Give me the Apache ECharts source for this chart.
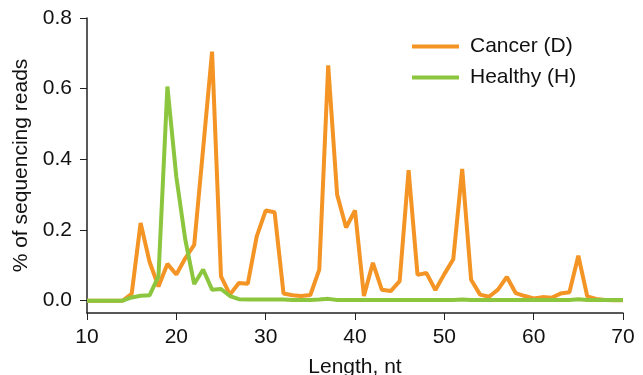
<!DOCTYPE html>
<html>
<head>
<meta charset="utf-8">
<script src="https://cdn.jsdelivr.net/npm/echarts@6/dist/echarts.min.js"></script>
<style>
  html, body { margin: 0; padding: 0; background: #fff; }
  #chart { width: 643px; height: 375px; }
</style>
</head>
<body>
<div id="chart"></div>
<script>
// read lengths 10..70 nt
const lengths = [10, 11, 12, 13, 14, 15, 16, 17, 18, 19, 20, 21, 22, 23, 24, 25, 26, 27, 28, 29, 30,
  31, 32, 33, 34, 35, 36, 37, 38, 39, 40, 41, 42, 43, 44, 45, 46, 47, 48, 49, 50,
  51, 52, 53, 54, 55, 56, 57, 58, 59, 60, 61, 62, 63, 64, 65, 66, 67, 68, 69, 70];

const cancer = [0, 0, 0, 0, 0, 0.019, 0.22, 0.11, 0.04, 0.104, 0.074,
  0.12, 0.158, 0.43, 0.705, 0.069, 0.017, 0.05, 0.048, 0.182, 0.255,
  0.25, 0.02, 0.015, 0.013, 0.016, 0.088, 0.666, 0.30, 0.207, 0.255,
  0.013, 0.107, 0.031, 0.027, 0.055, 0.369, 0.073, 0.078, 0.03, 0.075,
  0.117, 0.373, 0.059, 0.017, 0.011, 0.031, 0.067, 0.021, 0.013, 0.006,
  0.01, 0.008, 0.02, 0.024, 0.127, 0.012, 0.005, 0.002, 0.001, 0.001];

const healthy = [0, 0, 0, 0, 0, 0.009, 0.014, 0.015, 0.069, 0.606, 0.35,
  0.173, 0.047, 0.088, 0.031, 0.033, 0.013, 0.004, 0.003, 0.003, 0.003,
  0.003, 0.003, 0.002, 0.002, 0.002, 0.003, 0.005, 0.002, 0.002, 0.002,
  0.002, 0.002, 0.002, 0.002, 0.002, 0.002, 0.002, 0.002, 0.002, 0.002,
  0.002, 0.003, 0.002, 0.002, 0.002, 0.002, 0.002, 0.002, 0.002, 0.002,
  0.002, 0.002, 0.002, 0.002, 0.004, 0.002, 0.002, 0.002, 0.002, 0.002];

const yTicks = [0, 0.2, 0.4, 0.6, 0.8];

const font = 'Arial, "Liberation Sans", sans-serif';

const chart = echarts.init(document.getElementById('chart'));

chart.setOption({
  animation: false,
  grid: { left: 87, right: 20, top: 18, bottom: 62, outerBoundsMode: 'none' },
  legend: {
    orient: 'vertical',
    left: 407,
    top: 31,
    icon: 'rect',
    itemWidth: 47,
    itemHeight: 4,
    itemGap: 10,
    textStyle: { fontFamily: font, fontSize: 21, color: '#111', lineHeight: 21, padding: [0, 0, 0, 6] },
    data: ['Cancer (D)', 'Healthy (H)']
  },
  xAxis: {
    type: 'value',
    min: 10,
    max: 70,
    interval: 10,
    name: 'Length, nt',
    nameLocation: 'middle',
    nameGap: 44,
    nameTextStyle: { fontFamily: font, fontSize: 21, color: '#111' },
    axisLine: { onZero: false, lineStyle: { color: '#222', width: 1.5 } },
    axisTick: { inside: false, length: 7, lineStyle: { color: '#222' } },
    axisLabel: { fontFamily: font, fontSize: 21, color: '#111', margin: 14 },
    splitLine: { show: false }
  },
  yAxis: {
    type: 'value',
    min: -0.035,
    max: 0.8,
    name: '% of sequencing reads',
    nameLocation: 'middle',
    nameGap: 55,
    nameTextStyle: { fontFamily: font, fontSize: 21, color: '#111' },
    axisLine: { show: true, onZero: false, lineStyle: { color: '#222', width: 1.5 } },
    axisTick: { show: true, length: 7, customValues: yTicks, lineStyle: { color: '#222' } },
    axisLabel: {
      fontFamily: font, fontSize: 21, color: '#111', margin: 15,
      customValues: yTicks,
      formatter: v => v.toFixed(1)
    },
    splitLine: { show: false }
  },
  series: [
    {
      name: 'Cancer (D)',
      type: 'line',
      showSymbol: false,
      symbol: 'none',
      data: lengths.map((l, i) => [l, cancer[i]]),
      lineStyle: { color: '#f39425', width: 4 },
      itemStyle: { color: '#f39425' },
      z: 2
    },
    {
      name: 'Healthy (H)',
      type: 'line',
      showSymbol: false,
      symbol: 'none',
      data: lengths.map((l, i) => [l, healthy[i]]),
      lineStyle: { color: '#8cc63f', width: 4 },
      itemStyle: { color: '#8cc63f' },
      z: 3
    }
  ]
});
</script>
</body>
</html>
